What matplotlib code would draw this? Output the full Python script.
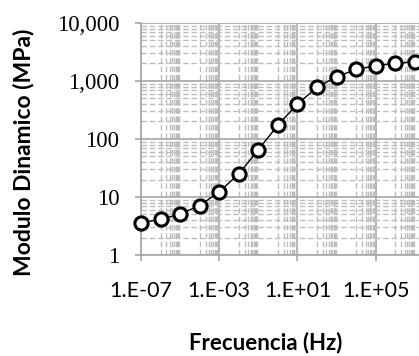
import matplotlib
matplotlib.use('Agg')
import matplotlib.pyplot as plt
import numpy as np
from matplotlib.ticker import FixedLocator, FuncFormatter, NullFormatter

# data
frecuencia = [1e-7, 1e-6, 1e-5, 1e-4, 1e-3, 1e-2, 1e-1, 1e0,
              1e1, 1e2, 1e3, 1e4, 1e5, 1e6, 1e7]
modulo = [3.6, 4.1, 5.1, 7.1, 12.3, 25, 65, 174,
          400, 777, 1180, 1585, 1830, 2000, 2150]

xticks = [1e-7, 1e-3, 1e1, 1e5]
yticks = [1, 10, 100, 1000, 10000]

grid_major = '#a6a6a6'
grid_minor = '#bdbdbd'

fig = plt.figure(figsize=(4.19, 3.56), dpi=100)
# axes runs past the right edge, like the cropped original
ax = fig.add_axes([0.3365, 0.2837, 0.747, 0.652])

ax.plot(frecuencia, modulo, color='black', lw=1, marker='o', markersize=9.5,
        mfc='white', mec='black', mew=2.2, zorder=5, clip_on=False)

ax.set_xscale('log')
ax.set_yscale('log')
ax.set_xlim(1e-7, 1e9)
ax.set_ylim(1, 10000)

ax.xaxis.set_major_locator(FixedLocator(xticks + [1e9]))
xminor = [m * 10.0 ** e for e in range(-6, 9, 2) for m in range(1, 10)]
ax.xaxis.set_minor_locator(FixedLocator(xminor))
ax.yaxis.set_major_locator(FixedLocator(yticks))
ax.yaxis.set_minor_locator(FixedLocator([m * 10.0 ** e for e in range(0, 4) for m in range(2, 10)]))
ax.xaxis.set_minor_formatter(NullFormatter())
ax.yaxis.set_minor_formatter(NullFormatter())

def xfmt(v, pos):
    if v > 1e8:
        return ''
    e = int(round(np.log10(v)))
    return '1.E%s%02d' % ('-' if e < 0 else '+', abs(e))

ax.xaxis.set_major_formatter(FuncFormatter(xfmt))
ax.yaxis.set_major_formatter(FuncFormatter(lambda v, p: '{:,.0f}'.format(v)))

ax.grid(which='major', color=grid_major, lw=1.2, ls='-')
ax.grid(which='minor', color=grid_minor, lw=1.0, ls='--', dashes=(4, 2))
ax.set_axisbelow(True)

for s in ['top', 'right']:
    ax.spines[s].set_visible(False)
for s in ['left', 'bottom']:
    ax.spines[s].set_color(grid_major)
    ax.spines[s].set_linewidth(1.2)

ax.tick_params(which='major', length=4.5, width=1.2, color=grid_major, labelcolor='black')
ax.tick_params(axis='x', which='major', pad=14)
ax.tick_params(axis='y', which='major', pad=11)
ax.tick_params(which='minor', length=0)
for lab in ax.get_xticklabels():
    lab.set_family('Lato')
    lab.set_fontsize(15.5)
for lab in ax.get_yticklabels():
    lab.set_family('Liberation Serif')
    lab.set_fontsize(16.5)

fig.text(0.057, 0.5716, 'Modulo Dinamico (MPa)', rotation=90, ha='center', va='center',
         fontsize=16.5, fontweight='bold', family='Lato')
fig.text(0.635, 0.0365, 'Frecuencia (Hz)', ha='center', va='center',
         fontsize=16, fontweight='bold', family='Lato')

plt.savefig('out.png', dpi=100)
plt.close()
